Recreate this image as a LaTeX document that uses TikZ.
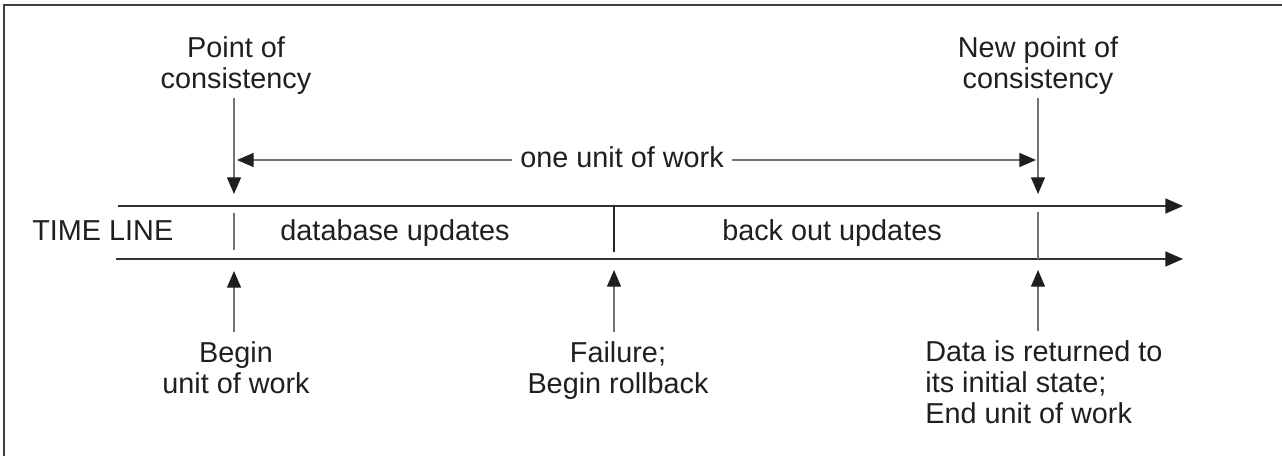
\documentclass[tikz,border=0pt]{standalone}
\usepackage{fontspec}
\setmainfont{Liberation Sans}
\usetikzlibrary{arrows.meta}
\begin{document}
\begin{tikzpicture}[x=0.02cm,y=-0.02cm,font=\fontsize{16.4}{17.64}\selectfont,
                lbl/.style={inner sep=0pt,text=black!88},
                tick/.style={line width=0.6pt,draw=black!55},
                ptr/.style={line width=0.6pt,draw=black!55,-{Triangle[length=9.5pt,width=8pt,color=black!88]}},
                tline/.style={line width=0.8pt,draw=black!80,-{Triangle[length=10pt,width=8.5pt,color=black!88]}}]
              \useasboundingbox (0,0) rectangle (1282,456);
              \draw[line width=1.1pt,black!75] (4,456) -- (4,5) -- (1282,5);
              \node[lbl,align=center,anchor=north](poc)at(236,36){Point of\\consistency};
              \node[lbl,align=center,anchor=north](npc)at(1038,36){New point of\\consistency};
              \node[lbl,inner xsep=4.5pt,anchor=base](uw)at(622,168){one unit of work};
              \node[lbl,anchor=base west](tl)at(32,240){TIME LINE};
              \node[lbl,anchor=base](db)at(395,240){database updates};
              \node[lbl,anchor=base](bo)at(832,240){back out updates};
              \node[lbl,align=center,anchor=north](bg)at(236,341){Begin\\unit of work};
              \node[lbl,align=center,anchor=north](fl)at(618,341){Failure;\\Begin rollback};
              \node[lbl,align=left,anchor=north west](dt)at(925,340){Data is returned to\\its initial state;\\End unit of work};
              \coordinate (pocT) at (234,194);
              \coordinate (npcT) at (1038,194);
              \coordinate (uwL) at (237,160);
              \coordinate (uwR) at (1036,160);
              \coordinate (bgT) at (234,271);
              \coordinate (flT) at (614,270);
              \coordinate (dtT) at (1038,270);
              \coordinate (tlA) at (118,206);
              \coordinate (tlAe) at (1183,206);
              \coordinate (tlB) at (116,259);
              \coordinate (tlBe) at (1183,259);
              \draw[tline] (tlA) -- (tlAe);
              \draw[tline] (tlB) -- (tlBe);
              \draw[tick] (234,213) -- (234,250);
              \draw[tick,draw=black!85] (614,205) -- (614,252);
              \draw[tick] (1038,212) -- (1038,259);
              \draw[ptr,shorten <=1.7pt] (poc.south -| pocT) -- (pocT);
              \draw[ptr,shorten <=1.7pt] (npc.south -| npcT) -- (npcT);
              \draw[ptr] (uw.west |- uwL) -- (uwL);
              \draw[ptr] (uw.east |- uwR) -- (uwR);
              \draw[ptr,shorten <=5pt] (bg.north -| bgT) -- (bgT);
              \draw[ptr,shorten <=5pt] (fl.north -| flT) -- (flT);
              \draw[ptr,shorten <=5pt] (dt.north -| dtT) -- (dtT);
            \end{tikzpicture}
\end{document}
